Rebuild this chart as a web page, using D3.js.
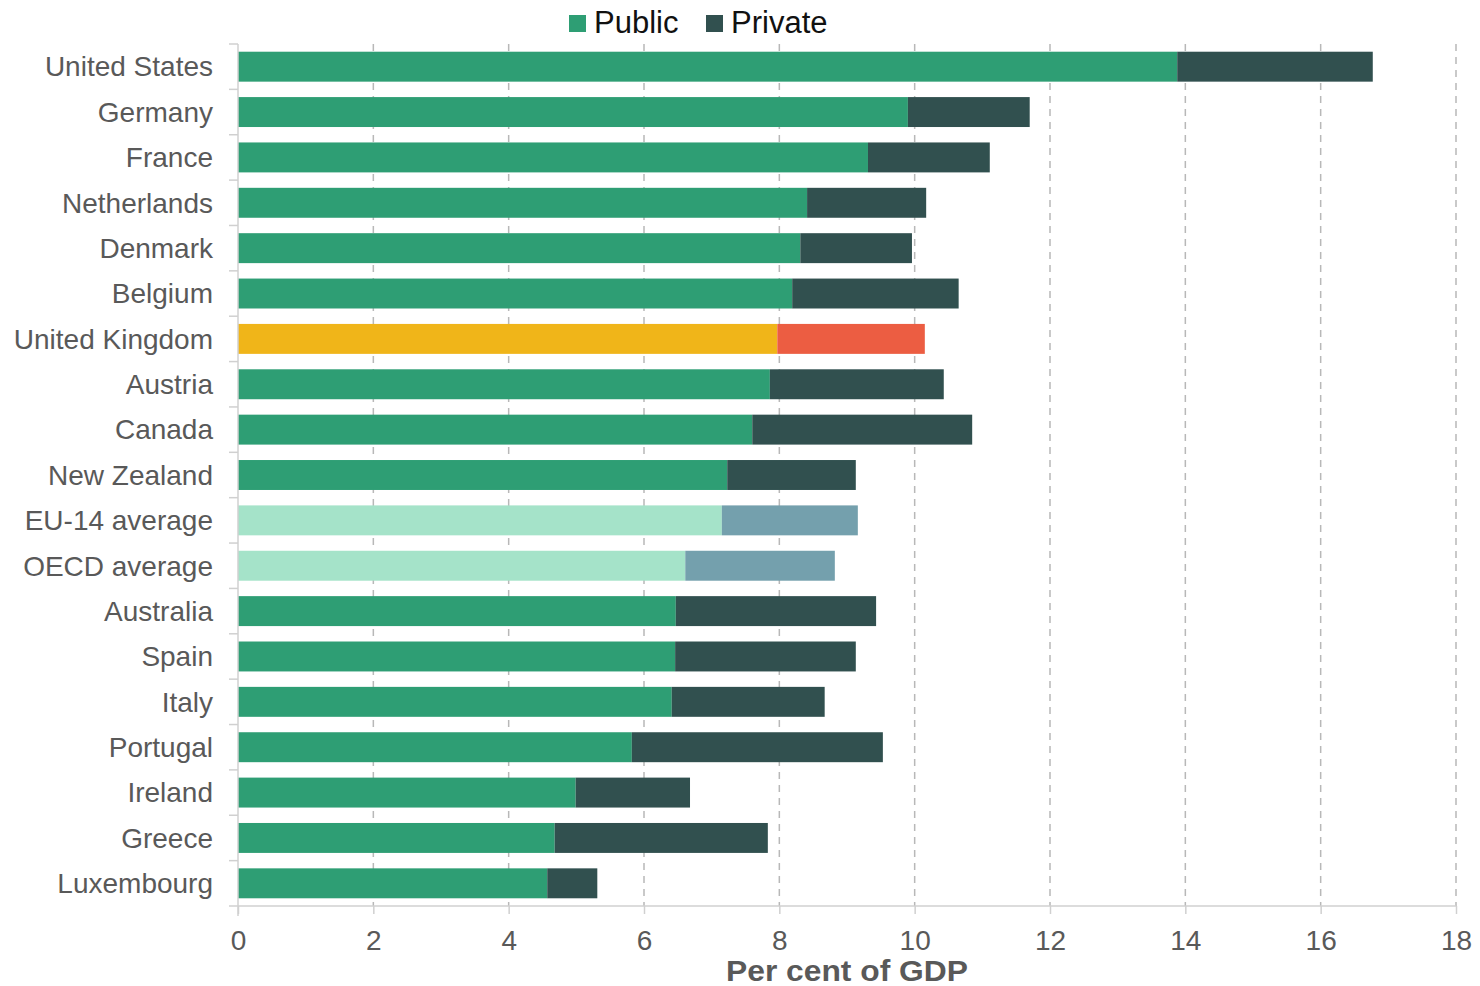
<!DOCTYPE html>
<html>
<head>
<meta charset="utf-8">
<script src="https://cdn.jsdelivr.net/npm/d3@7"></script>
<style>
  body { margin: 0; background: #fff; }
  text { font-family: "Liberation Sans", Arial, sans-serif; }
</style>
</head>
<body>
<div id="chart"></div>
<script>
// chart data
var countries = ["United States", "Germany", "France", "Netherlands", "Denmark", "Belgium",
    "United Kingdom", "Austria", "Canada", "New Zealand", "EU-14 average", "OECD average",
    "Australia", "Spain", "Italy", "Portugal", "Ireland", "Greece", "Luxembourg"];
var publicSpend = [13.88, 9.90, 9.31, 8.41, 8.31, 8.19, 7.97, 7.86, 7.60, 7.23, 7.15, 6.61,
    6.47, 6.46, 6.41, 5.82, 4.99, 4.68, 4.57];
var privateSpend = [2.89, 1.80, 1.80, 1.76, 1.65, 2.46, 2.18, 2.57, 3.25, 1.90, 2.01, 2.21,
    2.96, 2.67, 2.26, 3.71, 1.69, 3.15, 0.74];
var xTicks = [0, 2, 4, 6, 8, 10, 12, 14, 16, 18];

var svgWidth = 1480;
var svgHeight = 986;
var margin = { top: 44, right: 24, bottom: 80, left: 238 };
var width = 1456 - margin.left;
var height = 906 - margin.top;

var colors = {
    normal: ["#2e9e74", "#31504f"],
    uk: ["#f0b519", "#ec5d42"],
    avg: ["#a5e3c9", "#74a0ad"]
};
function colorFor(name, i) {
    if (name === "United Kingdom") return colors.uk[i];
    if (name.indexOf("average") >= 0) return colors.avg[i];
    return colors.normal[i];
}

var data = countries.map(function (c, i) {
    return { name: c, pub: publicSpend[i], priv: privateSpend[i] };
});

var svg = d3.select("#chart").append("svg")
    .attr("width", svgWidth)
    .attr("height", svgHeight);

var chartGroup = svg.append("g")
    .attr("transform", `translate(${margin.left}, ${margin.top})`);

var x = d3.scaleLinear().domain([0, 18]).range([0, width]);
var y = d3.scaleBand().domain(countries).range([0, height]).paddingInner(0.34).paddingOuter(0.17);

// dashed grid
chartGroup.selectAll(".grid")
    .data(xTicks.filter(d => d > 0))
    .enter().append("line")
    .attr("x1", d => x(d)).attr("x2", d => x(d))
    .attr("y1", 0).attr("y2", height)
    .attr("stroke", "#b8b8b8")
    .attr("stroke-width", 1.5)
    .attr("stroke-dasharray", "7,6");

// bars
var rows = chartGroup.selectAll(".row")
    .data(data)
    .enter().append("g");

rows.append("rect")
    .attr("x", x(0))
    .attr("y", d => y(d.name))
    .attr("width", d => x(d.pub) - x(0))
    .attr("height", y.bandwidth())
    .attr("fill", d => colorFor(d.name, 0));

rows.append("rect")
    .attr("x", d => x(d.pub))
    .attr("y", d => y(d.name))
    .attr("width", d => x(d.pub + d.priv) - x(d.pub))
    .attr("height", y.bandwidth())
    .attr("fill", d => colorFor(d.name, 1));

// y axis line and separators
chartGroup.append("line")
    .attr("x1", 0).attr("x2", 0)
    .attr("y1", 0).attr("y2", height + 10)
    .attr("stroke", "#d0d0d0").attr("stroke-width", 1.5);

var step = y.step();
chartGroup.selectAll(".sep")
    .data(d3.range(countries.length))
    .enter().append("line")
    .attr("x1", -9).attr("x2", 0)
    .attr("y1", d => d * step).attr("y2", d => d * step)
    .attr("stroke", "#d0d0d0").attr("stroke-width", 1.5);

chartGroup.selectAll(".ylab")
    .data(countries)
    .enter().append("text")
    .attr("x", -25)
    .attr("y", d => y(d) + y.bandwidth() / 2)
    .attr("dy", "0.35em")
    .attr("text-anchor", "end")
    .attr("fill", "#595959")
    .style("font-size", "28px")
    .text(d => d);

// x axis
var bottomAxis = d3.axisBottom(x).tickValues(xTicks).tickSize(8).tickPadding(16);
var xAxis = chartGroup.append("g")
    .attr("transform", `translate(0, ${height})`)
    .call(bottomAxis);
xAxis.select(".domain").remove();
xAxis.append("line")
    .attr("x1", -9).attr("x2", width)
    .attr("stroke", "#d0d0d0").attr("stroke-width", 1.5);
xAxis.selectAll(".tick line").attr("stroke", "#d0d0d0").attr("stroke-width", 1.5);
xAxis.selectAll(".tick text")
    .attr("fill", "#595959")
    .style("font-size", "28px")
    .style("font-family", "'Liberation Sans', Arial, sans-serif");

chartGroup.append("text")
    .attr("x", width / 2)
    .attr("y", height + 75)
    .attr("text-anchor", "middle")
    .attr("fill", "#595959")
    .attr("textLength", 242)
    .attr("lengthAdjust", "spacingAndGlyphs")
    .style("font-size", "29px")
    .style("font-weight", "bold")
    .text("Per cent of GDP");

// legend
var legend = svg.append("g");
var legendItems = [
    { label: "Public", color: colors.normal[0], x: 569 },
    { label: "Private", color: colors.normal[1], x: 706 }
];
legend.selectAll("rect")
    .data(legendItems)
    .enter().append("rect")
    .attr("x", d => d.x).attr("y", 15)
    .attr("width", 17).attr("height", 17)
    .attr("fill", d => d.color);
legend.selectAll("text")
    .data(legendItems)
    .enter().append("text")
    .attr("x", d => d.x + 25)
    .attr("y", 33)
    .attr("fill", "#111")
    .style("font-size", "31px")
    .text(d => d.label);
</script>
</body>
</html>
